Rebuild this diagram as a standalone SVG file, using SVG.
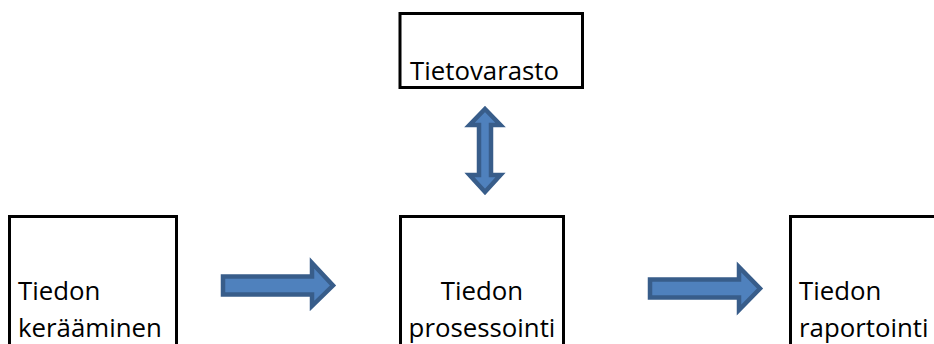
<svg xmlns="http://www.w3.org/2000/svg" width="934" height="344" viewBox="0 0 934 344">
  <style>
    .box { fill: #ffffff; stroke: #000000; stroke-width: 3; }
    .lbl { font-family: "Open Sans", "Noto Sans", "Liberation Sans", sans-serif; font-size: 25.8px; fill: #000000; }
    .arrow { fill: #4F81BD; stroke: #385D8A; stroke-width: 4.5; stroke-linejoin: miter; }
  </style>
  <rect width="934" height="344" fill="#ffffff"/>

  <g id="tietovarasto">
    <rect class="box" x="400" y="13.5" width="182.5" height="74"/>
    <text class="lbl" x="410" y="80">Tietovarasto</text>
  </g>

  <g id="tiedon-keraaminen">
    <rect class="box" x="9.5" y="216.5" width="167" height="140"/>
    <text class="lbl" x="18" y="300">Tiedon</text>
    <text class="lbl" x="18" y="337">kerääminen</text>
  </g>

  <g id="tiedon-prosessointi">
    <rect class="box" x="400.5" y="216.5" width="163" height="140"/>
    <text class="lbl" x="482" y="300" text-anchor="middle">Tiedon</text>
    <text class="lbl" x="482" y="337" text-anchor="middle">prosessointi</text>
  </g>

  <g id="tiedon-raportointi">
    <rect class="box" x="790.5" y="216.5" width="160" height="140"/>
    <text class="lbl" x="799" y="300">Tiedon</text>
    <text class="lbl" x="799" y="337">raportointi</text>
  </g>

  <g id="connectors">
    <!-- collection -> processing -->
    <path class="arrow" d="M223,276.5 H312 V263 L333,285.5 L312,306 V294.5 H223 Z"/>
    <!-- processing -> reporting -->
    <path class="arrow" d="M650,279.5 H739 V267 L760,288.5 L739,310 V297.5 H650 Z"/>
    <!-- processing <-> storage -->
    <path class="arrow" d="M485,109 L500.5,125 H491 V175 H500.5 L485,192 L469.5,175 H479 V125 H469.5 Z"/>
  </g>
</svg>
